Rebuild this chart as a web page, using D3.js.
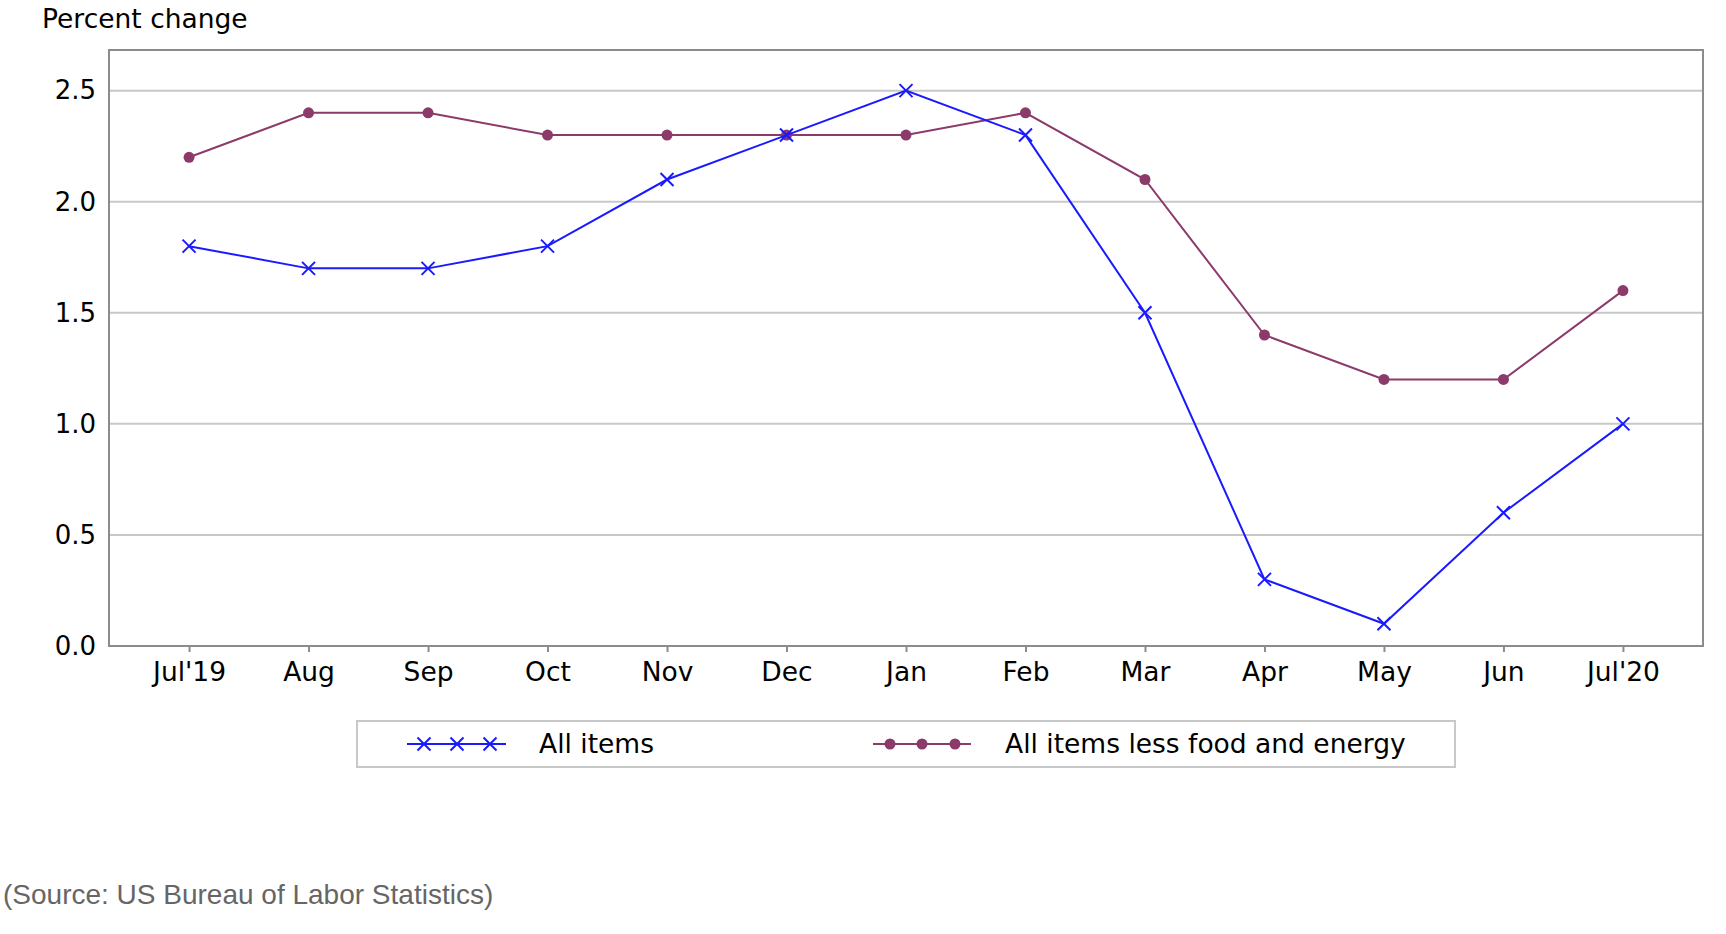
<!DOCTYPE html>
<html>
<head>
<meta charset="utf-8">
<script src="https://cdn.jsdelivr.net/npm/d3@7"></script>
<style>
  body { margin: 0; background: #fff; }
</style>
</head>
<body>
<svg id="chart" width="1726" height="934"></svg>
<script>
const months = ["Jul'19", "Aug", "Sep", "Oct", "Nov", "Dec", "Jan", "Feb", "Mar", "Apr", "May", "Jun", "Jul'20"];
const allItems = [1.8, 1.7, 1.7, 1.8, 2.1, 2.3, 2.5, 2.3, 1.5, 0.3, 0.1, 0.6, 1.0];
const coreItems = [2.2, 2.4, 2.4, 2.3, 2.3, 2.3, 2.3, 2.4, 2.1, 1.4, 1.2, 1.2, 1.6];
const yTicks = [0, 0.5, 1.0, 1.5, 2.0, 2.5];
const seriesNames = ["All items", "All items less food and energy"];

const plotL = 109, plotR = 1703, plotT = 50, plotB = 646;
const blue = "#1a1aff", purple = "#8b3a6a";
const font = "'DejaVu Sans', sans-serif";

const svg = d3.select("#chart");

const x = d3.scalePoint()
  .domain(months)
  .range([plotL, plotR])
  .padding(0.67);

const y = d3.scaleLinear()
  .domain([0, 2.683])
  .range([plotB, plotT]);

// gridlines
svg.append("g")
  .selectAll("line")
  .data(yTicks.filter(d => d > 0))
  .join("line")
  .attr("x1", plotL)
  .attr("x2", plotR)
  .attr("y1", d => y(d))
  .attr("y2", d => y(d))
  .attr("stroke", "#c8c8c8")
  .attr("stroke-width", 2);

// frame
svg.append("rect")
  .attr("x", plotL)
  .attr("y", plotT)
  .attr("width", plotR - plotL)
  .attr("height", plotB - plotT)
  .attr("fill", "none")
  .attr("stroke", "#8c8c8c")
  .attr("stroke-width", 2);

// y axis labels
const yAxis = d3.axisLeft(y).tickValues(yTicks).tickFormat(d3.format(".1f")).tickSize(0).tickPadding(13);
svg.append("g")
  .attr("transform", `translate(${plotL},0)`)
  .call(yAxis)
  .call(g => g.select(".domain").remove())
  .call(g => g.selectAll("text")
    .attr("font-family", font)
    .attr("font-size", 26)
    .attr("fill", "#000"));

// x axis
const xAxis = d3.axisBottom(x).tickSize(6).tickPadding(10);
svg.append("g")
  .attr("transform", `translate(0,${plotB})`)
  .call(xAxis)
  .call(g => g.select(".domain").remove())
  .call(g => g.selectAll("line").attr("stroke", "#8c8c8c").attr("stroke-width", 2))
  .call(g => g.selectAll("text")
    .attr("font-family", font)
    .attr("font-size", 26.5)
    .attr("fill", "#000"));

// y title
svg.append("text")
  .attr("x", 42)
  .attr("y", 28)
  .attr("font-family", font)
  .attr("font-size", 26.5)
  .text("Percent change");

const line = d3.line()
  .x((d, i) => x(months[i]))
  .y(d => y(d));

function xMark(g, s) {
  g.append("path")
    .attr("d", `M${-s},${-s}L${s},${s}M${-s},${s}L${s},${-s}`)
    .attr("stroke", blue)
    .attr("stroke-width", 2)
    .attr("fill", "none");
}

// core series
svg.append("path")
  .datum(coreItems)
  .attr("d", line)
  .attr("fill", "none")
  .attr("stroke", purple)
  .attr("stroke-width", 2);

svg.append("g")
  .selectAll("circle")
  .data(coreItems)
  .join("circle")
  .attr("cx", (d, i) => x(months[i]))
  .attr("cy", d => y(d))
  .attr("r", 5.5)
  .attr("fill", purple);

// all items series
svg.append("path")
  .datum(allItems)
  .attr("d", line)
  .attr("fill", "none")
  .attr("stroke", blue)
  .attr("stroke-width", 2);

svg.append("g")
  .selectAll("g")
  .data(allItems)
  .join("g")
  .attr("transform", (d, i) => `translate(${x(months[i])},${y(d)})`)
  .each(function () { xMark(d3.select(this), 6.5); });

// legend
const legend = svg.append("g");
legend.append("rect")
  .attr("x", 357)
  .attr("y", 721)
  .attr("width", 1098)
  .attr("height", 46)
  .attr("fill", "#fff")
  .attr("stroke", "#c8c8c8")
  .attr("stroke-width", 2);

const ly = 744;
legend.append("line")
  .attr("x1", 407).attr("x2", 506)
  .attr("y1", ly).attr("y2", ly)
  .attr("stroke", blue).attr("stroke-width", 2);
[424, 457, 490].forEach(cx => {
  xMark(legend.append("g").attr("transform", `translate(${cx},${ly})`), 6.5);
});
legend.append("text")
  .attr("x", 539)
  .attr("y", ly)
  .attr("dy", "0.35em")
  .attr("font-family", font)
  .attr("font-size", 26.5)
  .text(seriesNames[0]);

legend.append("line")
  .attr("x1", 873).attr("x2", 971)
  .attr("y1", ly).attr("y2", ly)
  .attr("stroke", purple).attr("stroke-width", 2);
[890, 922, 955].forEach(cx => {
  legend.append("circle")
    .attr("cx", cx).attr("cy", ly).attr("r", 5.5)
    .attr("fill", purple);
});
legend.append("text")
  .attr("x", 1005)
  .attr("y", ly)
  .attr("dy", "0.35em")
  .attr("font-family", font)
  .attr("font-size", 26.5)
  .text(seriesNames[1]);

// source
svg.append("text")
  .attr("x", 3)
  .attr("y", 904)
  .attr("font-family", "'Liberation Sans', Arial, sans-serif")
  .attr("font-size", 28)
  .attr("fill", "#666")
  .text("(Source: US Bureau of Labor Statistics)");
</script>
</body>
</html>
